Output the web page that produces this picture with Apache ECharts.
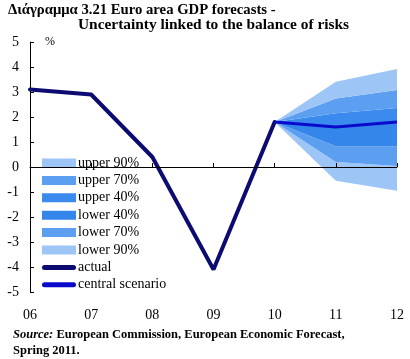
<!DOCTYPE html>
<html><head><meta charset="utf-8">
<script src="https://cdn.jsdelivr.net/npm/echarts@6/dist/echarts.min.js"></script>
<style>html,body{margin:0;padding:0;background:#fff}#c{width:410px;height:359px}</style>
</head><body><div id="c"></div>
<script>
const categories = ['06','07','08','09','10','11','12'];
const actual = [3.1, 2.9, 0.4, -4.1, 1.8, null, null];
const central = [null, null, null, null, 1.8, 1.6, 1.8];
const lower90 = [null, null, null, null, 1.8, -0.55, -0.95];
const lower70 = [null, null, null, null, 1.8, 0.2, 0.04];
const lower40 = [null, null, null, null, 1.8, 0.83, 0.83];
const upper40 = [null, null, null, null, 1.8, 2.15, 2.36];
const upper70 = [null, null, null, null, 1.8, 2.74, 3.08];
const upper90 = [null, null, null, null, 1.8, 3.41, 3.92];
const yTicks = [-5,-4,-3,-2,-1,0,1,2,3,4,5];

const FONT = '"Liberation Serif", "Times New Roman", serif';
function diff(a, b) { return a.map((v, i) => (v == null || b[i] == null) ? '-' : +(v - b[i]).toFixed(3)); }
const bands = [
  {name: 'lower 90%', top: lower70, bot: lower90, color: '#9dc6f7'},
  {name: 'lower 70%', top: lower40, bot: lower70, color: '#5c9ff0'},
  {name: 'lower 40%', top: central, bot: lower40, color: '#3586ea'},
  {name: 'upper 40%', top: upper40, bot: central, color: '#3b8bee'},
  {name: 'upper 70%', top: upper70, bot: upper40, color: '#5c9ff0'},
  {name: 'upper 90%', top: upper90, bot: upper70, color: '#9dc6f7'}
];
const series = [{
  name: 'base', type: 'line', stack: 'fan', stackStrategy: 'all', xAxisIndex: 0,
  data: lower90.map(v => v == null ? '-' : v),
  symbol: 'none', lineStyle: {width: 0, opacity: 0}, silent: true, z: 1
}];
bands.forEach(b => series.push({
  name: b.name, type: 'line', stack: 'fan', stackStrategy: 'all', xAxisIndex: 0,
  data: diff(b.top, b.bot), symbol: 'none',
  lineStyle: {width: 0, opacity: 0}, itemStyle: {color: b.color},
  areaStyle: {color: b.color, opacity: 1}, z: 1
}));
series.push({
  name: 'actual', type: 'line', xAxisIndex: 0, data: actual.map(v => v == null ? '-' : v),
  symbol: 'none', lineStyle: {color: '#0b0b72', width: 4, cap: 'round'}, itemStyle: {color: '#0b0b72'}, z: 5
});
series.push({
  name: 'central scenario', type: 'line', xAxisIndex: 0, data: central.map(v => v == null ? '-' : v),
  symbol: 'none', lineStyle: {color: '#0a0acc', width: 3}, itemStyle: {color: '#0a0acc'}, z: 6
});
const pill = 'path://M2.5,0 h29 a2.5,2.5 0 0 1 0,5 h-29 a2.5,2.5 0 0 1 0,-5 z';

const chart = echarts.init(document.getElementById('c'), null, {renderer: 'canvas'});
chart.setOption({
  animation: false,
  backgroundColor: '#fff',
  grid: {left: 30, right: 13, top: 42, bottom: 67, containLabel: false},
  legend: {
    orient: 'vertical', left: 37, top: 151,
    itemWidth: 34, itemHeight: 9, itemGap: 3.4,
    textStyle: {fontFamily: FONT, fontSize: 14, color: '#000', padding: [0,0,0,-3]},
    data: [
      {name: 'upper 90%', icon: 'rect'}, {name: 'upper 70%', icon: 'rect'},
      {name: 'upper 40%', icon: 'rect'}, {name: 'lower 40%', icon: 'rect'},
      {name: 'lower 70%', icon: 'rect'}, {name: 'lower 90%', icon: 'rect'},
      {name: 'actual', icon: pill}, {name: 'central scenario', icon: pill}
    ]
  },
  xAxis: [{
    type: 'category', data: categories, boundaryGap: false, position: 'bottom',
    axisLine: {show: false, onZero: false}, axisTick: {show: false},
    axisLabel: {fontFamily: FONT, fontSize: 14, color: '#000', margin: 16},
    splitLine: {show: false}
  }, {
    type: 'category', data: categories, boundaryGap: false, position: 'bottom', z: 10,
    axisLine: {show: true, onZero: true, lineStyle: {color: '#000', width: 1}},
    axisTick: {show: true, inside: true, length: 4, lineStyle: {color: '#000'}},
    axisLabel: {show: false}, splitLine: {show: false}
  }],
  yAxis: {
    type: 'value', min: yTicks[0], max: yTicks[yTicks.length - 1], interval: 1,
    axisLine: {show: true, lineStyle: {color: '#000', width: 1}},
    axisTick: {show: true, inside: true, length: 4, lineStyle: {color: '#000'}},
    axisLabel: {fontFamily: FONT, fontSize: 14, color: '#000', margin: 11},
    splitLine: {show: false}
  },
  graphic: [
    {type: 'text', left: 8, top: 3, style: {text: 'Διάγραμμα 3.21 Euro area GDP forecasts -', font: 'bold 14.7px ' + FONT, fill: '#000'}},
    {type: 'text', left: 78, top: 18, style: {text: 'Uncertainty linked to the balance of risks', font: 'bold 15.4px ' + FONT, fill: '#000'}},
    {type: 'text', left: 45, top: 36, style: {text: '%', font: '12px ' + FONT, fill: '#000'}},
    {type: 'text', left: 13, top: 328, style: {rich: {i: {font: 'bold italic 12.5px ' + FONT, fill: '#000'}, b: {font: 'bold 12.5px ' + FONT, fill: '#000'}}, text: '{i|Source:}{b| European Commission, European Economic Forecast,}'}},
    {type: 'text', left: 13, top: 344, style: {text: 'Spring 2011.', font: 'bold 12.5px ' + FONT, fill: '#000'}}
  ],
  series: series
});
</script></body></html>
